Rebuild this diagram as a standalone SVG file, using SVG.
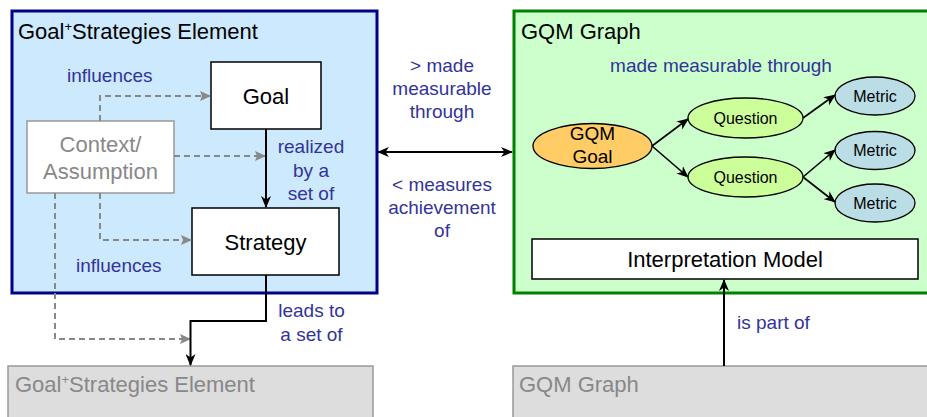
<svg xmlns="http://www.w3.org/2000/svg" width="927" height="417" viewBox="0 0 927 417">
<style>
text{font-family:"Liberation Sans",Arial,sans-serif}
.title{font-size:22px;fill:#000}
.node{font-size:22px;fill:#000;text-anchor:middle}
.lbl{font-size:19px;fill:#333399}
.lblc{font-size:19px;fill:#333399;text-anchor:middle}
.small{font-size:16px;fill:#000;text-anchor:middle}
.gq{font-size:19px;fill:#000;text-anchor:middle}
.gray{font-size:22px;fill:#888}
.box{fill:#fff;stroke:#000;stroke-width:1.5}
.dash{fill:none;stroke:#888;stroke-width:2;stroke-dasharray:6,4}
.solid{fill:none;stroke:#000;stroke-width:2}
.thin{fill:none;stroke:#000;stroke-width:1.6}
.ell{stroke:#000;stroke-width:1.3}
</style>
<defs>
<marker id="ah" markerUnits="userSpaceOnUse" markerWidth="12" markerHeight="10" refX="11" refY="5" orient="auto">
<path d="M0,0 L12,5 L0,10 L3.5,5 z" fill="#000"/>
</marker>
<marker id="ahs" markerUnits="userSpaceOnUse" markerWidth="12" markerHeight="10" refX="1" refY="5" orient="auto">
<path d="M12,0 L0,5 L12,10 L8.5,5 z" fill="#000"/>
</marker>
<marker id="ag" markerUnits="userSpaceOnUse" markerWidth="11" markerHeight="10" refX="10" refY="5" orient="auto">
<path d="M0,0 L11,5 L0,10 L2,5 z" fill="#888"/>
</marker>
</defs>

<g id="gs-element">
<rect x="12" y="11" width="365" height="282" fill="#cce9fd" stroke="#000088" stroke-width="3"/>
<text class="title" x="18" y="39">Goal<tspan font-size="13" dy="-8">+</tspan><tspan dy="8">Strategies Element</tspan></text>
</g>

<g id="gqm-graph">
<rect x="514" y="11" width="420" height="282" fill="#ccffcc" stroke="#008000" stroke-width="3"/>
<text class="title" x="521" y="39">GQM Graph</text>
<text class="lblc" x="721" y="72">made measurable through</text>
</g>

<g id="goal">
<rect class="box" x="211" y="62" width="110" height="67"/>
<text class="node" x="266" y="104">Goal</text>
</g>

<g id="context">
<rect x="27" y="121" width="147" height="72" fill="#fff" stroke="#999" stroke-width="1.5"/>
<text class="gray" x="100.5" y="152" text-anchor="middle">Context/</text>
<text class="gray" x="100.5" y="179" text-anchor="middle">Assumption</text>
</g>

<g id="strategy">
<rect class="box" x="192" y="208" width="147" height="67"/>
<text class="node" x="265.5" y="250">Strategy</text>
</g>

<g id="gqm-goal">
<ellipse class="ell" cx="592.5" cy="146" rx="59.5" ry="22.5" fill="#ffcc66"/>
<text class="gq" x="592.5" y="140">GQM</text>
<text class="gq" x="592.5" y="163">Goal</text>
</g>

<g id="question1">
<ellipse class="ell" cx="745.5" cy="118" rx="57.5" ry="20" fill="#ccff99"/>
<text class="small" x="745.5" y="124">Question</text>
</g>
<g id="question2">
<ellipse class="ell" cx="745.5" cy="177" rx="57.5" ry="20" fill="#ccff99"/>
<text class="small" x="745.5" y="183">Question</text>
</g>

<g id="metric1">
<ellipse class="ell" cx="875" cy="96" rx="40" ry="19" fill="#bbdde6"/>
<text class="small" x="875" y="102">Metric</text>
</g>
<g id="metric2">
<ellipse class="ell" cx="875" cy="150.5" rx="40" ry="19" fill="#bbdde6"/>
<text class="small" x="875" y="156">Metric</text>
</g>
<g id="metric3">
<ellipse class="ell" cx="875" cy="203" rx="40" ry="19" fill="#bbdde6"/>
<text class="small" x="875" y="208.5">Metric</text>
</g>

<g id="interpretation-model">
<rect class="box" x="532" y="239" width="386" height="40"/>
<text class="node" x="725" y="267">Interpretation Model</text>
</g>

<g id="gs-element-bottom">
<rect x="8" y="366" width="365" height="60" fill="#dddddd" stroke="#999" stroke-width="1.5"/>
<text class="gray" x="15" y="392">Goal<tspan font-size="13" dy="-8">+</tspan><tspan dy="8">Strategies Element</tspan></text>
</g>

<g id="gqm-graph-bottom">
<rect x="513" y="366" width="430" height="60" fill="#dddddd" stroke="#999" stroke-width="1.5"/>
<text class="gray" x="519" y="392">GQM Graph</text>
</g>

<g id="connectors">
<path class="dash" d="M100,121 V96 H210" marker-end="url(#ag)"/>
<path class="dash" d="M174,156 H265" marker-end="url(#ag)"/>
<path class="dash" d="M100,193 V240 H191" marker-end="url(#ag)"/>
<path class="dash" d="M55,193 V339 H190" marker-end="url(#ag)"/>
<path class="solid" d="M266,129 V207" marker-end="url(#ah)"/>
<path class="solid" d="M266,275 V321 H190.5 V365" marker-end="url(#ah)"/>
<path class="solid" d="M378,152 H512" marker-start="url(#ahs)" marker-end="url(#ah)"/>
<path class="solid" d="M724,366 V280" marker-end="url(#ah)"/>
<path class="thin" d="M652,146 L688,119" marker-end="url(#ah)"/>
<path class="thin" d="M652,146 L688,177" marker-end="url(#ah)"/>
<path class="thin" d="M803,118 L835,95" marker-end="url(#ah)"/>
<path class="thin" d="M803,177 L835,150" marker-end="url(#ah)"/>
<path class="thin" d="M803,177 L835,202" marker-end="url(#ah)"/>
</g>

<g id="labels">
<text class="lbl" x="67" y="82">influences</text>
<text class="lbl" x="76" y="272">influences</text>
<text class="lblc" x="311" y="153">realized</text>
<text class="lblc" x="311" y="177">by a</text>
<text class="lblc" x="311" y="200">set of</text>
<text class="lblc" x="442" y="72">&gt; made</text>
<text class="lblc" x="442" y="95">measurable</text>
<text class="lblc" x="442" y="118">through</text>
<text class="lblc" x="442" y="191">&lt; measures</text>
<text class="lblc" x="442" y="214">achievement</text>
<text class="lblc" x="442" y="237">of</text>
<text class="lblc" x="311.5" y="317">leads to</text>
<text class="lblc" x="311.5" y="341">a set of</text>
<text class="lbl" x="737" y="329">is part of</text>
</g>
</svg>
